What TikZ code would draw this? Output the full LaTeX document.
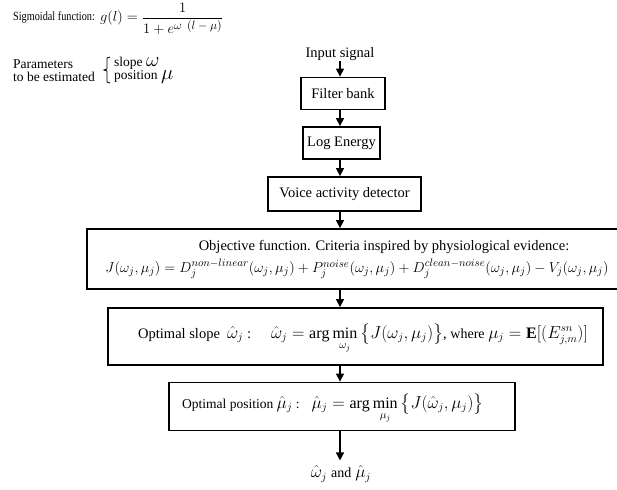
\documentclass[tikz,border=0pt]{standalone}
\usepackage{graphicx}
\usepackage{amsmath}
\usepackage{fontspec}
\setmainfont{Liberation Serif}
\usetikzlibrary{arrows.meta}
\newcommand\fsmain{\fontsize{14.5}{17}\selectfont}
\newcommand\fspar{\fontsize{13.5}{15}\selectfont}
\newcommand\fsmath{\fontsize{16}{18}\selectfont}
\begin{document}
\begin{tikzpicture}[x=1pt,y=-1pt,
  box/.style={draw, line width=1.8pt, inner sep=0pt, font=\fsmain},
  arr/.style={line width=1.4pt, -{Triangle[length=8pt,width=8pt]}},
  lbl/.style={inner sep=0pt, font=\fsmain},
  mlbl/.style={inner sep=0pt, font=\fsmath},
  plbl/.style={inner sep=0pt, font=\fspar, anchor=west}]
\useasboundingbox (0,0) rectangle (617,489);
% top-left annotations
\node[inner sep=0pt, anchor=west, font=\fontsize{12.5}{14}\selectfont] (sig) at (13,17) {\scalebox{0.82}[1]{Sigmoidal function:}};
\node[inner sep=0pt, anchor=west, font=\fontsize{15}{17}\selectfont] (geq) at (100,19) {$g(l) = \dfrac{1}{1+e^{\hbox{\fontsize{11.5}{12}\selectfont$\omega\;\,(l-\mu)$}}}$};
\node[plbl] (p1) at (13,64) {Parameters};
\node[plbl] (p2) at (13,77) {to be estimated};
\draw[line width=0.8pt] (110,57) -- (107,58) -- (107,69) -- (104,70) -- (107,71) -- (107,82) -- (110,83);
\node[plbl] (s1) at (114,63) {slope {\fontsize{22}{22}\selectfont$\omega$}};
\node[plbl] (s2) at (114,77) {position {\fontsize{22}{22}\selectfont$\mu$}};
% flow
\node[lbl] (in) at (340,54) {Input signal};
\node[box, minimum width=84pt, minimum height=32pt] (fb) at (343,93.5) {Filter bank};
\node[box, minimum width=77pt, minimum height=32pt] (le) at (341.5,143) {Log Energy};
\node[box, minimum width=153pt, minimum height=34pt] (vad) at (344.5,194) {Voice activity detector};
\node[box, minimum width=553pt, minimum height=60pt] (obj) at (363.5,259) {};
\node[lbl] (objt) at (384,247) {Objective function. Criteria inspired by physiological evidence:};
\node[inner sep=0pt, font=\fontsize{15.3}{17}\selectfont] (objf) at (357,269) {$J(\omega_j,\mu_j) = D_j^{non-linear}(\omega_j,\mu_j) + P_j^{noise}(\omega_j,\mu_j) + D_j^{clean-noise}(\omega_j,\mu_j) - V_j(\omega_j,\mu_j)$};
\node[box, minimum width=495pt, minimum height=57pt] (slope) at (355.5,336.5) {};
\node[lbl, anchor=base west] (slopet) at (138,338) {Optimal slope\ \ {\fsmath$\hat{\omega}_j$} :\hspace{20pt}{\fsmath$\displaystyle\hat\omega_j = \arg\min\limits_{\omega_j}\big\{J(\omega_j,\mu_j)\big\}$},\ {\fontsize{14}{16}\selectfont where}\ {\fsmath$\mu_j = \mathbf{E}[(E^{sn}_{j,m})]$}};
\node[box, minimum width=346pt, minimum height=48pt] (pos) at (342,406.5) {};
\node[inner sep=0pt, font=\fontsize{13.5}{16}\selectfont, anchor=base west] (post) at (182,408) {Optimal position {\fsmath$\hat{\mu}_j$} :\hspace{12pt}{\fsmath$\displaystyle\hat\mu_j = \arg\min\limits_{\mu_j}\big\{J(\hat\omega_j,\mu_j)\big\}$}};
\node[mlbl] (out) at (341,474) {$\hat\omega_j$ {\fontsize{14}{16}\selectfont and} $\hat\mu_j$};
% arrows
\draw[arr] (in.south) -- (in.south |- fb.north);
\draw[arr] (fb.south -| in) -- (in |- le.north);
\draw[arr] (le.south -| in) -- (in |- vad.north);
\draw[arr] (vad.south -| in) -- (in |- obj.north);
\draw[arr] (obj.south -| in) -- (in |- slope.north);
\draw[arr] (slope.south -| in) -- (in |- pos.north);
\draw[arr] (pos.south -| in) -- ([yshift=5pt]out.north -| in);
\end{tikzpicture}
\end{document}
